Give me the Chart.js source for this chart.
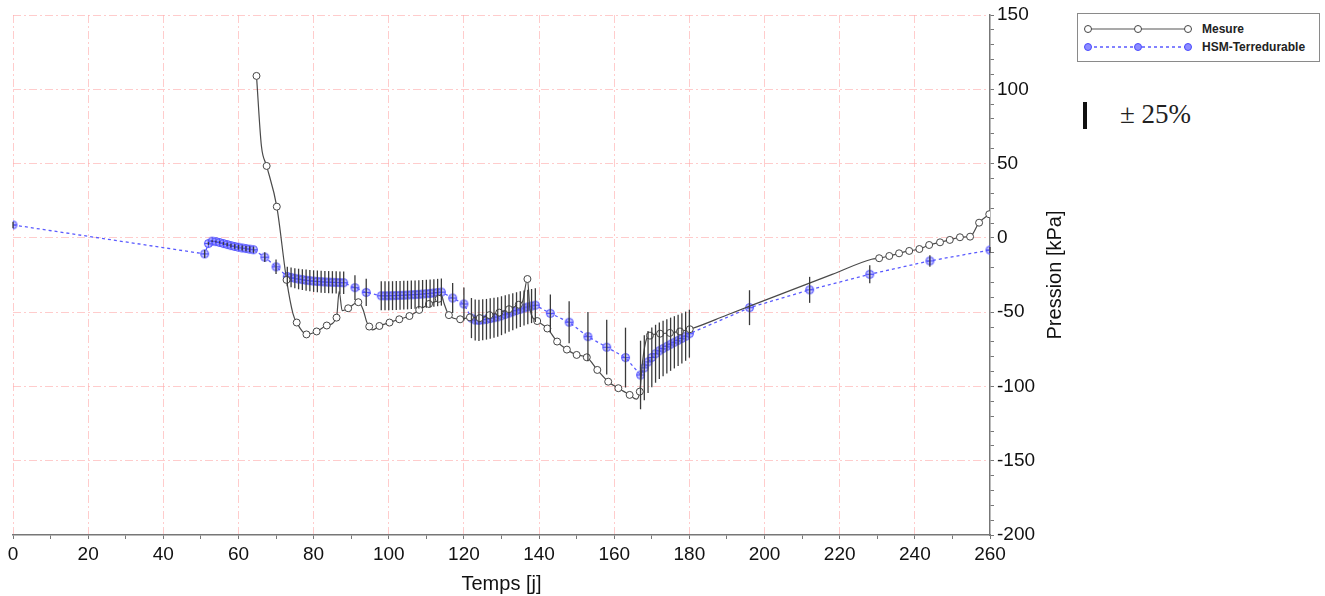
<!DOCTYPE html>
<html>
<head>
<meta charset="utf-8">
<script src="https://cdn.jsdelivr.net/npm/chart.js@4.4.1/dist/chart.umd.min.js"></script>
<style>
  body { margin: 0; background: #fff; }
  #chart { position: absolute; left: 0; top: 0; }
  #legend { position: absolute; left: 1077px; top: 13px; width: 243px; height: 49px; border: 1px solid #8a8a8a; box-sizing: border-box; }
  .row { position: absolute; left: 6px; height: 14px; display: flex; align-items: center; font: bold 12px "Liberation Sans", Arial, sans-serif; color: #222; }
  .row svg { margin-right: 10px; }
  #bar { position: absolute; left: 1083px; top: 102px; width: 4px; height: 27px; background: #111; }
  #note { position: absolute; left: 1120px; top: 99px; font: 27px "Liberation Serif", "DejaVu Serif", serif; color: #222; }
</style>
</head>
<body>
<canvas id="chart" width="1070" height="596"></canvas>
<div id="legend">
  <div class="row" style="top:8px">
    <svg width="108" height="10"><line x1="4" y1="5" x2="104" y2="5" stroke="#555" stroke-width="1.2"/>
      <circle cx="4" cy="5" r="3.5" fill="#fff" stroke="#444"/><circle cx="54" cy="5" r="3.5" fill="#fff" stroke="#444"/><circle cx="104" cy="5" r="3.5" fill="#fff" stroke="#444"/></svg>
    <span>Mesure</span>
  </div>
  <div class="row" style="top:26px">
    <svg width="108" height="10"><line x1="4" y1="5" x2="104" y2="5" stroke="#5a5aff" stroke-width="1.3" stroke-dasharray="3,3"/>
      <g fill="#8c8cff" stroke="#4a4aff"><circle cx="4" cy="5" r="3.5"/><circle cx="54" cy="5" r="3.5"/><circle cx="104" cy="5" r="3.5"/></g></svg>
    <span>HSM-Terredurable</span>
  </div>
</div>
<div id="bar"></div>
<div id="note">± 25%</div>
<script>
// Mesure: points with a marker
const mesureDays = [64.8, 67.5, 70.2, 72.8, 75.5, 78.1, 80.8, 83.5, 86.1, 89.2, 91.9, 94.8, 97.5, 100.2, 102.8, 105.5, 108.1, 110.7, 113.3,
  116, 119, 121.6, 124.2, 126.8, 129.4, 132, 134.6, 136.9, 139.5, 142.2, 144.8, 147.4, 150, 152.7, 155.5, 158.4, 161.1, 164.1, 166.8,
  169.5, 172.2, 174.8, 177.5, 180.1, 230.5, 233.2, 235.8, 238.5, 241.2, 243.8, 246.7, 249.3, 252, 254.7, 257.1, 259.8];
const mesureValues = [109, 48.4, 21, -28.3, -57, -65, -63, -59, -53.7, -47.4, -43.3, -59.7, -59.3, -57, -54.8, -52.6, -48.5, -44.5, -41,
  -52, -54.8, -53.5, -54, -52, -50.3, -48, -45, -27.7, -56, -61, -69.8, -75.2, -78.8, -80.4, -88.9, -96.8, -101.2, -105.7, -103.5,
  -65.8, -64.5, -64, -63, -61.5, -13.7, -12.2, -10.4, -8.8, -7.5, -4.8, -3, -1.4, 0.4, 0.8, 10.2, 15.9];
// Mesure: intermediate line points without marker
const mesureLineDays = [66.1, 74.5, 86.8, 87.6, 93.2, 94.1, 95.7, 113.9, 114.7, 135.6, 137.6, 165.9, 167.6, 168.6,
  190, 204, 218, 228.5];
const mesureLineValues = [62, -51, -36, -49, -48.5, -56.4, -62, -38, -44, -43, -48.5, -108.6, -82, -68,
  -51.9, -38.2, -24.6, -14.4];

// HSM-Terredurable model
const modelDays = [0, 51, 52, 53, 54, 55, 56, 57, 58, 59, 60, 61, 62, 63, 64, 67, 70,
  73, 74, 75, 76, 77, 78, 79, 80, 81, 82, 83, 84, 85, 86, 87, 88, 91, 94,
  98, 99, 100, 101, 102, 103, 104, 105, 106, 107, 108, 109, 110, 111, 112, 113, 114, 117, 120,
  122, 123, 124, 125, 126, 127, 128, 129, 130, 131, 132, 133, 134, 135, 136, 137, 138, 139,
  143, 148, 153, 158, 163,
  167, 168, 169, 170, 171, 172, 173, 174, 175, 176, 177, 178, 179, 180, 196, 212, 228, 244, 260];
const modelValues = [8.7, -10.8, -3.8, -2.2, -2.5, -3.1, -3.8, -4.5, -5.2, -5.8, -6.3, -6.8, -7.2, -7.6, -8.0, -13, -19.5,
  -26, -26.6, -27.2, -27.7, -28.1, -28.5, -28.8, -29.1, -29.3, -29.5, -29.7, -29.8, -29.9, -30, -30.1, -30.2, -33.5, -36.7,
  -39, -39, -39, -38.9, -38.8, -38.7, -38.6, -38.5, -38.3, -38.2, -38, -37.8, -37.6, -37.4, -37.1, -36.8, -36.5, -40.5, -44.5,
  -54, -55.3, -55.5, -55.2, -54.8, -54.3, -53.8, -53.2, -52.4, -51.5, -50.6, -49.7, -48.8, -48, -47.2, -46.5, -45.9, -45.3,
  -50.8, -56.8, -66.5, -73.6, -80.6,
  -92.3, -87.5, -83.5, -80.5, -78, -76, -74.5, -73, -71.6, -70.3, -69, -67.7, -66.2, -64.5, -47, -35, -24.5, -15.5, -8.2];
const errorShare = 0.25;

const xMin = 0, xMax = 260, xStep = 10, xLabelStep = 20;
const yMin = -200, yMax = 150, yStep = 10, yLabelStep = 50;

const mesureData = mesureDays.map((d, i) => ({ x: d, y: mesureValues[i], m: true }))
  .concat(mesureLineDays.map((d, i) => ({ x: d, y: mesureLineValues[i], m: false })))
  .sort((a, b) => a.x - b.x);
const modelData = modelDays.map((d, i) => ({ x: d, y: modelValues[i] }));

// circle with a cross for the model points
const modelMarker = document.createElement("canvas");
modelMarker.width = 11; modelMarker.height = 11;
(function () {
  const c = modelMarker.getContext("2d");
  c.beginPath(); c.arc(5.5, 5.5, 4, 0, Math.PI * 2);
  c.fillStyle = "rgba(140,140,255,0.5)"; c.fill();
  c.strokeStyle = "#4a4aff"; c.lineWidth = 1; c.stroke();
  c.beginPath(); c.moveTo(5.5, 1.5); c.lineTo(5.5, 9.5); c.moveTo(1.5, 5.5); c.lineTo(9.5, 5.5); c.stroke();
})();

const errorBars = {
  id: "errorBars",
  afterDatasetsDraw(chart) {
    const meta = chart.getDatasetMeta(1);
    const y = chart.scales.y;
    const ctx = chart.ctx;
    ctx.save();
    ctx.strokeStyle = "#3a3a3a";
    ctx.lineWidth = 1.3;
    meta.data.forEach((pt, i) => {
      const v = modelValues[i];
      ctx.beginPath();
      ctx.moveTo(pt.x, y.getPixelForValue(v * (1 - errorShare)));
      ctx.lineTo(pt.x, y.getPixelForValue(v * (1 + errorShare)));
      ctx.stroke();
    });
    ctx.restore();
  }
};

const yTitle = {
  id: "yTitle",
  afterDraw(chart) {
    const a = chart.chartArea, ctx = chart.ctx;
    ctx.save();
    ctx.translate(a.right + 65, (a.top + a.bottom) / 2);
    ctx.rotate(-Math.PI / 2);
    ctx.textAlign = "center";
    ctx.textBaseline = "middle";
    ctx.font = '20px "Liberation Sans", Arial, sans-serif';
    ctx.fillStyle = "#111";
    ctx.fillText("Pression [kPa]", 0, 0);
    ctx.restore();
  }
};

const gridPink = "rgba(255,170,170,0.6)";

new Chart(document.getElementById("chart"), {
  type: "line",
  data: {
    datasets: [
      {
        label: "Mesure",
        data: mesureData,
        borderColor: "#4a4a4a",
        borderWidth: 1.2,
        pointRadius: c => (c.raw && c.raw.m ? 3.5 : 0),
        pointBackgroundColor: "#fff",
        pointBorderColor: "#444",
        pointBorderWidth: 1,
        cubicInterpolationMode: "monotone"
      },
      {
        label: "HSM-Terredurable",
        data: modelData,
        borderColor: "#5a5aff",
        borderWidth: 1.3,
        borderDash: [3, 3],
        pointStyle: modelMarker,
        tension: 0
      }
    ]
  },
  options: {
    responsive: false,
    animation: false,
    layout: { padding: { left: 13, top: 15, right: 0, bottom: 0 } },
    plugins: { legend: { display: false }, tooltip: { enabled: false } },
    scales: {
      x: {
        type: "linear",
        min: xMin, max: xMax,
        afterFit(s) { s.height = 61; },
        ticks: {
          stepSize: xStep, autoSkip: false, maxRotation: 0, padding: 4,
          color: "#111", font: { family: "Liberation Sans", size: 19 },
          callback: v => (v % xLabelStep === 0 ? v : "")
        },
        grid: {
          color: c => (c.tick && c.tick.value % xLabelStep === 0 && c.tick.value < xMax ? gridPink : "transparent"),
          tickColor: "#777", tickLength: 4
        },
        border: { display: true, color: "#777", width: 1.5, dash: [8, 3, 2, 3] },
        title: { display: true, text: "Temps [j]", color: "#111", font: { family: "Liberation Sans", size: 20 }, padding: { top: 2, bottom: 0 } }
      },
      y: {
        position: "right",
        min: yMin, max: yMax,
        afterFit(s) { s.width = 80; },
        ticks: {
          stepSize: yStep, autoSkip: false, padding: 3,
          color: "#111", font: { family: "Liberation Sans", size: 19 },
          callback: v => (v % yLabelStep === 0 ? v : "")
        },
        grid: {
          color: c => (c.tick && c.tick.value % yLabelStep === 0 && c.tick.value > yMin ? gridPink : "transparent"),
          tickColor: "#777", tickLength: 4
        },
        border: { display: true, color: "#777", width: 1.5, dash: [8, 3, 2, 3] }
      }
    }
  },
  plugins: [errorBars, yTitle]
});
</script>
</body>
</html>
